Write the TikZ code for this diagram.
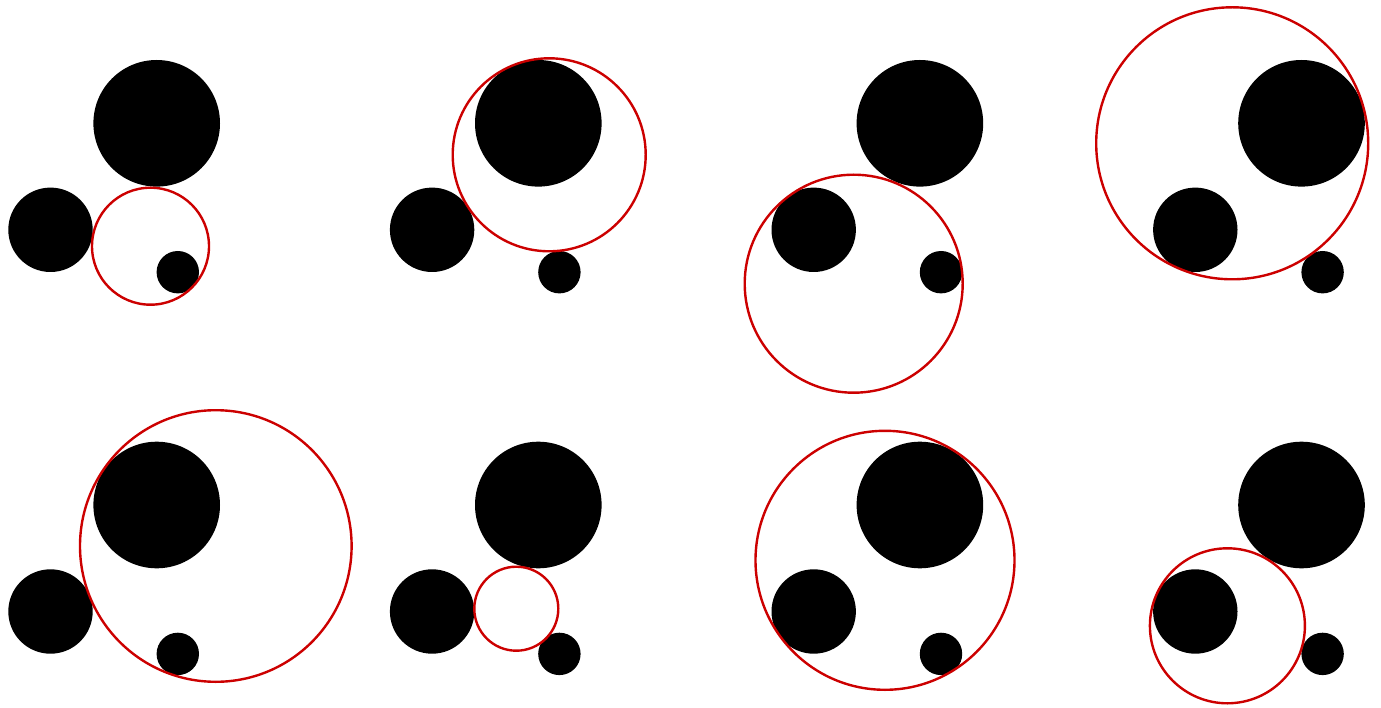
\documentclass[tikz,border=0pt]{standalone}
\usepackage{tikz}
\definecolor{Sol}{HTML}{CC0000}
\begin{document}
\begin{tikzpicture}[x=1pt,y=-1pt,
 g/.style={fill=black},
 sol/.style={draw=Sol,line width=2.4pt}
]
\useasboundingbox (0,0) rectangle (1381,708);
% the eight tangent circles, one per panel
\foreach \cx/\cy/\r [count=\i from 0] in {150.5/246.2/58.5, 167.6/154.8/96.5, 90.5/283.7/109, 87.4/143.3/136,
  215.8/164.3/135.8, 134.7/227/42, 121.8/178.6/129.5, 82.6/244.1/77.5} {
  \pgfmathsetmacro\dx{mod(\i,4)*381.6}
  \pgfmathsetmacro\dy{int(\i/4)*381.7}
  \begin{scope}[shift={(\dx,\dy)}]
    \fill[g] (156.7,123.3) circle[radius=63.3];
    \fill[g] (50.5,229.8) circle[radius=42.2];
    \fill[g] (177.8,272.2) circle[radius=21.2];
    \draw[sol] (\cx,\cy) circle[radius=\r];
  \end{scope}
}
\end{tikzpicture}
\end{document}
